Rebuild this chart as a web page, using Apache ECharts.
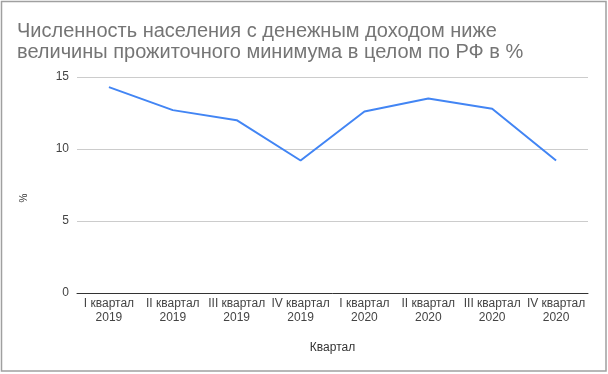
<!DOCTYPE html>
<html>
<head>
<meta charset="utf-8">
<script src="https://cdn.jsdelivr.net/npm/echarts@6/dist/echarts.min.js"></script>
<style>html,body{margin:0;padding:0;background:#fff;}#c{width:608px;height:374px;}</style>
</head>
<body>
<div id="c"></div>
<script>
const titleText = 'Численность населения с денежным доходом ниже\nвеличины прожиточного минимума в целом по РФ в %';
const categories = ['I квартал\n2019','II квартал\n2019','III квартал\n2019','IV квартал\n2019','I квартал\n2020','II квартал\n2020','III квартал\n2020','IV квартал\n2020'];
const values = [14.3, 12.7, 12.0, 9.2, 12.6, 13.5, 12.8, 9.2];
const yTicks = [0, 5, 10, 15];
const xName = 'Квартал';
const yName = '%';

const chart = echarts.init(document.getElementById('c'), null, {renderer:'canvas'});
const font = 'Arial, "Liberation Sans", sans-serif';
chart.setOption({
  animation: false,
  textStyle: {fontFamily: font},
  title: {
    text: titleText, left: 12, top: 16,
    textStyle: {fontFamily: font, fontSize: 20, fontWeight: 'normal', color: '#757575', lineHeight: 21}
  },
  graphic: [{
    type: 'rect', shape: {x: 1.5, y: 1.5, width: 604.5, height: 369.5},
    style: {fill: 'none', stroke: '#a0a0a0', lineWidth: 1.5}, silent: true, z: 100
  }],
  grid: {left: 77, right: 20, top: 77, bottom: 81},
  xAxis: {
    type: 'category', data: categories, boundaryGap: true,
    name: xName, nameLocation: 'middle', nameGap: 49,
    nameTextStyle: {fontFamily: font, fontSize: 12, color: '#333'},
    axisLine: {show: true, lineStyle: {color: '#333', width: 1}},
    axisTick: {show: false},
    axisLabel: {fontFamily: font, fontSize: 12, color: '#444', margin: 4, lineHeight: 14, interval: 0}
  },
  yAxis: {
    type: 'value', min: yTicks[0], max: yTicks[yTicks.length-1], interval: 5,
    name: yName, nameLocation: 'middle', nameGap: 48, nameRotate: 90,
    nameTextStyle: {fontFamily: font, fontSize: 10, color: '#333', padding: [0, 26, 0, 0]},
    axisLine: {show: false}, axisTick: {show: false},
    axisLabel: {fontFamily: font, fontSize: 12, color: '#444', margin: 8},
    splitLine: {lineStyle: {color: '#cccccc', width: 1}}
  },
  series: [{
    type: 'line', data: values, symbol: 'none',
    lineStyle: {color: '#4285f4', width: 2}, itemStyle: {color: '#4285f4'}
  }]
});
</script>
</body>
</html>
